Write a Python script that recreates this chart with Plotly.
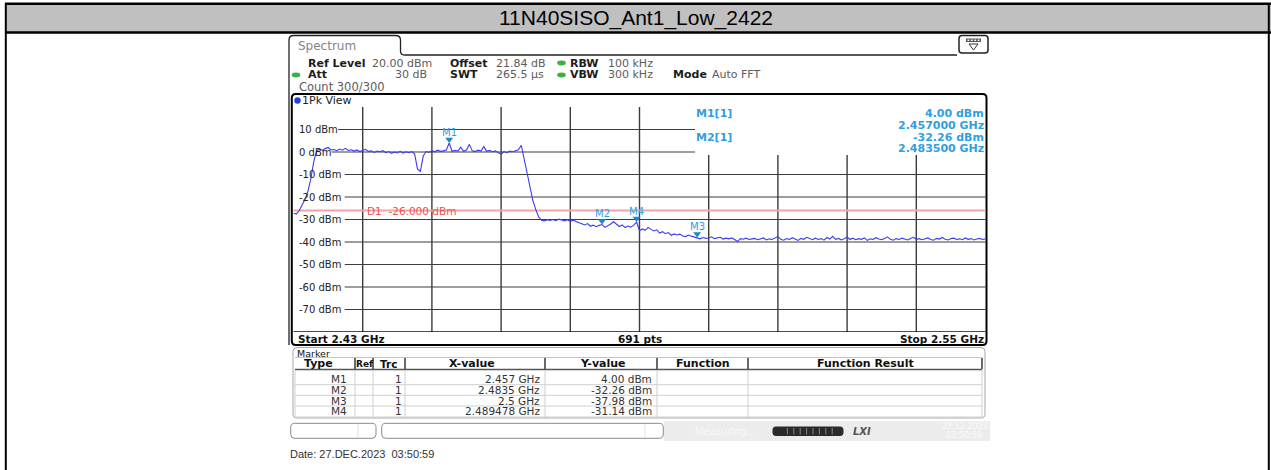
import plotly.graph_objects as go

# ---------------------------------------------------------------- data
TITLE = "11N40SISO_Ant1_Low_2422"
START_GHZ = 2.43
STOP_GHZ = 2.55
SWEEP_PTS = 691
REF_LEVEL_DBM = 20.0
BOTTOM_DBM = -80.0
D1_DBM = -26.0
Y_TICKS_DBM = [10, 0, -10, -20, -30, -40, -50, -60, -70]
X_DIVISIONS = 10

# trace values (one every 0.5 MHz from 2.430 to 2.550 GHz)
TRACE_DBM = [
    -27.2, -27.6, -26.0, -23.5, -21.0, -17.5, -12.0, -4.5, 0.6, 1.2,
    0.8, 1.5, 2.0, 0.9, 1.1, 0.6, 1.3, 0.8, 1.6, 0.7,
    1.0, 0.4, 0.9, 0.2, 0.6, 1.2, 0.3, 0.5, -0.2, 0.4,
    0.1, 0.6, -0.3, 0.2, -0.6, 0.0, -0.4, 0.3, -0.5, 0.1,
    -0.3, 0.2, -0.8, -7.5, -8.6, -1.8, 0.2, -0.2, 0.6, 0.1,
    0.8, 0.3, 0.5, 0.9, 4.0, 0.2, 0.7, 0.4, 2.1, 0.3,
    0.9, 3.4, 0.5, 0.2, 0.8, 0.4, 2.4, 0.3, 0.7, 0.1,
    0.5, -0.4, -1.0, 0.2, -0.3, 0.4, 0.1, 0.6, 1.0, 3.0,
    -3.0, -9.5, -16.0, -21.5, -25.5, -28.8, -30.3, -30.6, -30.1, -30.4,
    -30.0, -30.5, -29.8, -30.2, -30.6, -30.1, -30.8, -30.3, -31.0, -31.4,
    -31.9, -32.4, -31.8, -33.0, -32.5, -33.2, -32.6, -32.26, -33.5, -32.8,
    -32.0, -31.0, -32.2, -33.1, -32.4, -33.6, -32.9, -33.4, -32.5, -31.14,
    -35.0, -34.2, -34.8, -33.5, -34.4, -35.1, -34.6, -36.0, -35.4, -36.3,
    -35.8, -37.0, -36.4, -36.9, -36.5, -37.3, -37.6, -36.9, -37.4, -37.8,
    -37.98, -38.6, -38.0, -38.4, -38.2, -37.7, -38.5, -38.1, -37.9, -38.7,
    -38.3, -38.6, -38.2, -38.9, -39.8, -38.5, -38.8, -38.3, -38.9, -38.6,
    -38.4, -39.0, -38.7, -38.2, -39.1, -38.6, -38.9, -38.3, -37.6, -38.8,
    -39.2, -38.5, -38.9, -38.1, -38.7, -39.3, -38.4, -38.8, -37.9, -38.6,
    -39.0, -38.3, -38.9, -38.5, -39.2, -38.0, -38.7, -37.5, -38.8, -38.4,
    -39.1, -38.6, -37.8, -38.9, -38.3, -39.0, -38.5, -38.8, -38.2, -39.3,
    -38.6, -38.9, -38.1, -38.7, -39.0, -38.4, -37.7, -38.8, -39.2, -38.5,
    -38.9, -38.3, -38.7, -39.1, -38.4, -37.9, -38.8, -38.5, -39.0, -38.6,
    -38.2, -38.9, -39.2, -38.4, -38.7, -38.0, -38.8, -39.1, -38.5, -38.3,
    -38.9, -38.6, -39.0, -38.2, -38.8, -38.5, -39.1, -38.7, -38.4, -38.9,
    -38.6,
]
STEP_GHZ = (STOP_GHZ - START_GHZ) / (len(TRACE_DBM) - 1)
TRACE_GHZ = [START_GHZ + i * STEP_GHZ for i in range(len(TRACE_DBM))]

MARKER_NAMES = ["M1", "M2", "M3", "M4"]
MARKER_GHZ = [2.457, 2.4835, 2.5, 2.489478]
MARKER_DBM = [4.00, -32.26, -37.98, -31.14]
MARKER_TRC = [1, 1, 1, 1]
READOUT_MARKERS = [0, 1]

TABLE_HEADERS = ["Type", "Ref", "Trc", "X-value", "Y-value", "Function", "Function Result"]
DATE_TEXT = "Date: 27.DEC.2023  03:50:59"

# ---------------------------------------------------------------- geometry / style
W, H = 1271, 470
GX0, GX1 = 293.5, 985.5      # grid left/right (px)
GY0, GY1 = 107.0, 332.0      # grid top/bottom (px)
INFO_X0, INFO_Y1 = 695.0, 155.0
PX_PER_DB = (GY1 - GY0) / (REF_LEVEL_DBM - BOTTOM_DBM)

INSTR = "DejaVu Sans"
ARIAL = "Liberation Sans"
TRACE_BLUE = "#3b3bf0"
MK_BLUE = "#2f9fe2"
TRI_BLUE = "#1f86d0"
GRID = "#3c3c3c"


def px(x):
    return x / W


def py(y):
    return 1 - y / H


def ypix(dbm):
    return GY0 + (REF_LEVEL_DBM - dbm) * PX_PER_DB


def xpix(ghz):
    return GX0 + (ghz - START_GHZ) / (STOP_GHZ - START_GHZ) * (GX1 - GX0)


shapes = []
annots = []


def line_px(x0, y0, x1, y1, color="#000", width=1.0, layer="below", dash="solid"):
    shapes.append(dict(type="line", xref="paper", yref="paper",
                       x0=px(x0), y0=py(y0), x1=px(x1), y1=py(y1),
                       line=dict(color=color, width=width, dash=dash), layer=layer))


def rect_px(x0, y0, x1, y1, fill, color=None, width=0, layer="below"):
    shapes.append(dict(type="rect", xref="paper", yref="paper",
                       x0=px(x0), y0=py(y0), x1=px(x1), y1=py(y1),
                       fillcolor=fill,
                       line=dict(color=color or fill, width=width), layer=layer))


def ellipse_px(cx, cy, rx, ry, fill, layer="below"):
    shapes.append(dict(type="circle", xref="paper", yref="paper",
                       x0=px(cx - rx), y0=py(cy - ry), x1=px(cx + rx), y1=py(cy + ry),
                       fillcolor=fill, line=dict(width=0), layer=layer))


def path_px(cmds, color="#000", width=1.0, fill="rgba(0,0,0,0)", layer="below"):
    out = []
    for c in cmds:
        if c[0] == "Z":
            out.append("Z")
            continue
        pts = c[1:]
        coords = []
        for k in range(0, len(pts), 2):
            coords.append("%.6f,%.6f" % (px(pts[k]), py(pts[k + 1])))
        out.append(c[0] + " ".join(coords))
    shapes.append(dict(type="path", xref="paper", yref="paper", path=" ".join(out),
                       line=dict(color=color, width=width), fillcolor=fill, layer=layer))


def rrect_px(x0, y0, x1, y1, r, color="#000", width=1.0, fill="rgba(0,0,0,0)", layer="below"):
    path_px([("M", x0 + r, y0), ("L", x1 - r, y0), ("Q", x1, y0, x1, y0 + r),
             ("L", x1, y1 - r), ("Q", x1, y1, x1 - r, y1), ("L", x0 + r, y1),
             ("Q", x0, y1, x0, y1 - r), ("L", x0, y0 + r), ("Q", x0, y0, x0 + r, y0), ("Z",)],
            color=color, width=width, fill=fill, layer=layer)


def text_px(x, y, s, size=10, color="#000", bold=False, anchor="left",
            family=INSTR, italic=False):
    t = s
    if bold:
        t = "<b>" + t + "</b>"
    if italic:
        t = "<i>" + t + "</i>"
    annots.append(dict(x=px(x), y=py(y), xref="paper", yref="paper", text=t,
                       showarrow=False, xanchor=anchor, yanchor="middle",
                       borderpad=0, borderwidth=0,
                       font=dict(family=family, size=size, color=color)))


# ---------------------------------------------------------------- outer report table
rect_px(5, 4, 1271, 32, "#c0c0c0")
line_px(5, 3.8, 1271, 3.8, "#000", 2.5)
line_px(5, 32.5, 1271, 32.5, "#000", 2.5)
line_px(5.8, 3, 5.8, 470, "#000", 2)
line_px(1268.8, 3, 1268.8, 470, "#000", 2)
text_px(636, 18.5, TITLE, size=21, color="#000", anchor="center", family=ARIAL)

# ---------------------------------------------------------------- instrument window
path_px([("M", 289, 345), ("L", 289, 40), ("Q", 289, 35.5, 293.5, 35.5),
         ("L", 395.5, 35.5), ("Q", 400.5, 35.5, 400.5, 40), ("L", 400.5, 51),
         ("Q", 400.5, 55, 404.5, 55), ("L", 957, 55)], color="#222", width=1.3)
text_px(298, 45.5, "Spectrum", size=12, color="#858585")
# settings icon
rrect_px(959, 35.5, 988, 53, 3, color="#222", width=1.5, fill="#ffffff")
rect_px(966, 38.5, 981, 42, "#555555")
for k in range(4):
    rect_px(967.5 + k * 3.4, 39.5, 969.3 + k * 3.4, 41, "#ffffff")
path_px([("M", 969, 44), ("L", 978, 44), ("L", 973.5, 50), ("Z",)], color="#333", width=1)

# header settings
R1, R2, R3 = 63.0, 75.0, 87.0
LBL, VAL = "#1c1c1c", "#5c5c5c"
text_px(307.5, R1, "Ref Level", 11, LBL, bold=True)
text_px(372, R1, "20.00 dBm", 11, VAL)
text_px(450, R1, "Offset", 11, LBL, bold=True)
text_px(496, R1, "21.84 dB", 11, VAL)
ellipse_px(561.5, R1, 4.3, 2.4, "#3cb043")
text_px(570, R1, "RBW", 11, LBL, bold=True)
text_px(608, R1, "100 kHz", 11, VAL)
ellipse_px(296, R2, 4.3, 2.4, "#3cb043")
text_px(307.5, R2, "Att", 11, LBL, bold=True)
text_px(427, R2, "30 dB", 11, VAL, anchor="right")
text_px(450, R2, "SWT", 11, LBL, bold=True)
text_px(496, R2, "265.5 µs", 11, VAL)
ellipse_px(561.5, R2, 4.3, 2.4, "#3cb043")
text_px(570, R2, "VBW", 11, LBL, bold=True)
text_px(608, R2, "300 kHz", 11, VAL)
text_px(673, R2, "Mode", 11, LBL, bold=True)
text_px(712, R2, "Auto FFT", 11, VAL)
text_px(299, R3, "Count 300/300", 11.5, VAL)

# diagram frame
rrect_px(291.8, 94, 986.5, 345, 4, color="#000", width=2)
ellipse_px(297.5, 100.5, 3.2, 3.2, "#1f3fe0")
text_px(302, 100.5, "1Pk View", 11, "#222")

# ---------------------------------------------------------------- grid
for k in range(1, X_DIVISIONS):
    f = START_GHZ + k * (STOP_GHZ - START_GHZ) / X_DIVISIONS
    top = INFO_Y1 if xpix(f) > INFO_X0 else GY0
    shapes.append(dict(type="line", xref="x", yref="paper", x0=f, x1=f,
                       y0=py(GY1), y1=py(top), line=dict(color=GRID, width=1.4),
                       layer="below"))
for v in Y_TICKS_DBM:
    lab = "%d dBm" % v
    x_start = 297.5 + 6.6 * len(lab) + 1
    x_end = INFO_X0 if ypix(v) < INFO_Y1 else GX1
    shapes.append(dict(type="line", xref="paper", yref="y", x0=px(x_start), x1=px(x_end),
                       y0=v, y1=v, line=dict(color=GRID, width=1.1), layer="below"))
    annots.append(dict(x=px(297.5), y=v, xref="paper", yref="y", text=lab,
                       showarrow=False, xanchor="left", yanchor="middle",
                       borderpad=0, font=dict(family=INSTR, size=10, color="#222")))
shapes.append(dict(type="line", xref="paper", yref="y", x0=px(GX0), x1=px(GX1),
                   y0=BOTTOM_DBM, y1=BOTTOM_DBM, line=dict(color="#111", width=1.3),
                   layer="below"))

# display line D1
shapes.append(dict(type="line", xref="paper", yref="y", x0=px(GX0), x1=px(GX1),
                   y0=D1_DBM, y1=D1_DBM, line=dict(color="#f3a3a3", width=1.8),
                   layer="below"))
annots.append(dict(x=px(365.5), y=D1_DBM, xref="paper", yref="y",
                   text="D1  %.3f dBm" % D1_DBM, showarrow=False, xanchor="left",
                   yanchor="middle", borderpad=0,
                   font=dict(family=INSTR, size=10.5, color="#f05050")))

# bottom axis texts
text_px(298, 338.5, "Start %g GHz" % START_GHZ, 10.5, "#111", bold=True)
text_px((GX0 + GX1) / 2, 338.5, "%d pts" % SWEEP_PTS, 10.5, "#111", bold=True, anchor="center")
text_px(983.5, 338.5, "Stop %g GHz" % STOP_GHZ, 10.5, "#111", bold=True, anchor="right")

# marker readout box
ry = [113.3, 125.0, 137.3, 148.6]
for n, mi in enumerate(READOUT_MARKERS):
    text_px(696, ry[2 * n], "%s[%d]" % (MARKER_NAMES[mi], MARKER_TRC[mi]), 11, MK_BLUE, bold=True)
    text_px(984.5, ry[2 * n], "%.2f dBm" % MARKER_DBM[mi], 11, MK_BLUE, bold=True, anchor="right")
    text_px(984.5, ry[2 * n + 1], "%.6f GHz" % MARKER_GHZ[mi], 11, MK_BLUE, bold=True, anchor="right")

# marker labels on the trace
TRI_SIZE = 7
TRI_OFF_DB = (TRI_SIZE / 2) / PX_PER_DB
for name, f, v in zip(MARKER_NAMES, MARKER_GHZ, MARKER_DBM):
    annots.append(dict(x=f, y=v, xref="x", yref="y", text=name, showarrow=False,
                       xanchor="center", yanchor="middle", yshift=11, borderpad=0,
                       font=dict(family=INSTR, size=10, color=MK_BLUE)))

# ---------------------------------------------------------------- marker table
rrect_px(293, 347.5, 985, 418, 4, color="#a8a8a8", width=1)
text_px(296.5, 353, "Marker", 9.5, "#111")
COLS = [295, 355, 373, 405, 545, 657, 748, 982]
line_px(295, 357.5, 982, 357.5, "#c4c4c4", 1)
line_px(295, 369.5, 982, 369.5, "#555", 1.3)
for cx in COLS[1:]:
    line_px(cx, 358, cx, 369, "#444", 1.6)
for cx in COLS:
    line_px(cx, 370, cx, 417, "#cfcfcf", 1)
ROW_Y = [379.3, 390.0, 400.7, 411.4]
for yb in [384.7, 395.3, 406.0, 417.0]:
    line_px(295, yb, 982, yb, "#cfcfcf", 1)
HEAD_X = [318.5, 364, 388.5, 471.7, 603.3, 703.3, 865]
HEAD_SIZE = [11, 9, 10.5, 11, 11, 11, 11]
for hx, h, hs in zip(HEAD_X, TABLE_HEADERS, HEAD_SIZE):
    text_px(hx, 363.5, h, hs, "#111", bold=True, anchor="center")
for r, (name, f, v, trc) in enumerate(zip(MARKER_NAMES, MARKER_GHZ, MARKER_DBM, MARKER_TRC)):
    text_px(347, ROW_Y[r], name, 10.5, "#333", anchor="right")
    text_px(402, ROW_Y[r], "%d" % trc, 10.5, "#333", anchor="right")
    text_px(540, ROW_Y[r], "%.7g GHz" % f, 10.5, "#333", anchor="right")
    text_px(651.5, ROW_Y[r], "%.2f dBm" % v, 10.5, "#333", anchor="right")

# ---------------------------------------------------------------- status bar
rect_px(664, 421, 990, 441, "#ececec")
rrect_px(290.7, 423.3, 376, 438.3, 4, color="#8a8a8a", width=1, fill="#ffffff")
line_px(358, 424, 358, 437.5, "#e0e0e0", 1)
rrect_px(381.7, 423.3, 663.3, 438.3, 4, color="#8a8a8a", width=1, fill="#ffffff")
line_px(645, 424, 645, 437.5, "#e0e0e0", 1)
text_px(695, 431, "Measuring...", 10, "#f8f8f8")
rrect_px(773, 427, 843, 435.5, 2.5, color="#2a2a2a", width=1, fill="#2a2a2a")
for k in range(1, 9):
    line_px(781 + k * 6.4, 428, 781 + k * 6.4, 434.5, "#9a9a9a", 0.8)
text_px(853, 431, "LXI", 10, "#555", bold=True, italic=True)
text_px(942, 426.5, "27.12.2023", 8, "#fafafa")
text_px(946, 435.5, "03:50:59", 8, "#fafafa")

# date line
text_px(290, 453.5, DATE_TEXT, 11, "#333", family=ARIAL)

# ---------------------------------------------------------------- figure
fig = go.Figure()
fig.add_trace(go.Scatter(x=TRACE_GHZ, y=TRACE_DBM, mode="lines",
                         line=dict(color=TRACE_BLUE, width=1.1),
                         hoverinfo="skip", showlegend=False))
fig.add_trace(go.Scatter(x=MARKER_GHZ, y=[v + TRI_OFF_DB for v in MARKER_DBM],
                         mode="markers",
                         marker=dict(symbol="triangle-down", size=TRI_SIZE, color=TRI_BLUE,
                                     line=dict(width=0)),
                         hoverinfo="skip", showlegend=False))
fig.update_layout(
    width=W, height=H,
    margin=dict(l=0, r=0, t=0, b=0, pad=0),
    paper_bgcolor="#ffffff", plot_bgcolor="rgba(0,0,0,0)",
    showlegend=False,
    xaxis=dict(domain=[GX0 / W, GX1 / W], range=[START_GHZ, STOP_GHZ],
               visible=False, fixedrange=True),
    yaxis=dict(domain=[1 - GY1 / H, 1 - GY0 / H], range=[BOTTOM_DBM, REF_LEVEL_DBM],
               visible=False, fixedrange=True),
    shapes=shapes, annotations=annots,
)
fig.write_html(
    "out.html",
    config={"displayModeBar": False},
    post_script="document.body.style.margin='0';document.body.style.overflow='hidden';",
)
